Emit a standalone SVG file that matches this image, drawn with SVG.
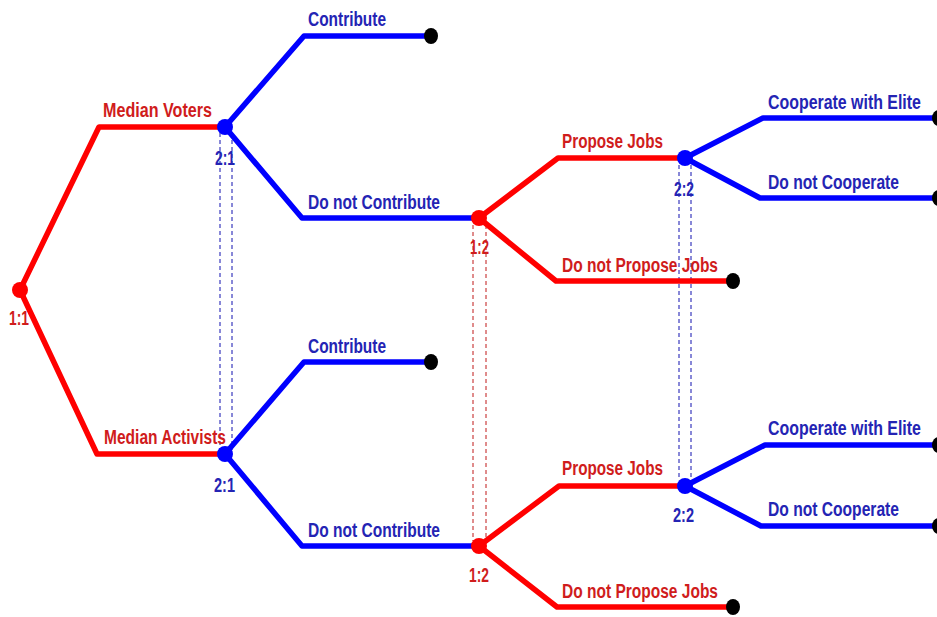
<svg xmlns="http://www.w3.org/2000/svg" width="937" height="617" viewBox="0 0 937 617">
<style>
.r{stroke:#ff0000;stroke-width:5.5;fill:none;stroke-linejoin:round;stroke-linecap:round}
.b{stroke:#0000ff;stroke-width:5.5;fill:none;stroke-linejoin:round;stroke-linecap:round}
.dr{stroke:#c01818;stroke-width:1;stroke-dasharray:4 3;fill:none}
.db{stroke:#1010b0;stroke-width:1;stroke-dasharray:4 3;fill:none}
text{font-family:"Liberation Sans",Arial,sans-serif;font-weight:bold;font-size:20px}
.tr{fill:#d01c1c}
.tb{fill:#2424b4}
.nr{fill:#ff0000}
.nb{fill:#0000ff}
.end{fill:#000000}
</style>
<rect width="937" height="617" fill="#ffffff"/>
<g id="information-sets">
<line class="db" x1="220" y1="133" x2="220" y2="450"/>
<line class="db" x1="232" y1="133" x2="232" y2="450"/>
<line class="dr" x1="473" y1="225" x2="473" y2="541"/>
<line class="dr" x1="486" y1="225" x2="486" y2="541"/>
<line class="db" x1="679" y1="165" x2="679" y2="480"/>
<line class="db" x1="691" y1="165" x2="691" y2="480"/>
</g>
<g id="connectors">
<path class="r" d="M20,290 L99,127 L225,127"/>
<text class="tr" x="103" y="117" textLength="109" lengthAdjust="spacingAndGlyphs">Median Voters</text>
<path class="r" d="M20,290 L97,454 L225,454"/>
<text class="tr" x="104" y="444" textLength="122" lengthAdjust="spacingAndGlyphs">Median Activists</text>
<path class="b" d="M225,127 L304,36 L431,36"/>
<text class="tb" x="308" y="26" textLength="78" lengthAdjust="spacingAndGlyphs">Contribute</text>
<path class="b" d="M225,127 L302,218 L479,218"/>
<text class="tb" x="308" y="209" textLength="132" lengthAdjust="spacingAndGlyphs">Do not Contribute</text>
<path class="b" d="M225,454 L304,362 L431,362"/>
<text class="tb" x="308" y="353" textLength="78" lengthAdjust="spacingAndGlyphs">Contribute</text>
<path class="b" d="M225,454 L302,546 L479,546"/>
<text class="tb" x="308" y="537" textLength="132" lengthAdjust="spacingAndGlyphs">Do not Contribute</text>
<path class="r" d="M479,218 L558,158 L685,158"/>
<text class="tr" x="562" y="148" textLength="101" lengthAdjust="spacingAndGlyphs">Propose Jobs</text>
<path class="r" d="M479,218 L556,281 L733,281"/>
<text class="tr" x="562" y="272" textLength="156" lengthAdjust="spacingAndGlyphs">Do not Propose Jobs</text>
<path class="r" d="M479,546 L559,486 L685,486"/>
<text class="tr" x="562" y="475" textLength="101" lengthAdjust="spacingAndGlyphs">Propose Jobs</text>
<path class="r" d="M479,546 L557,607 L733,607"/>
<text class="tr" x="562" y="598" textLength="156" lengthAdjust="spacingAndGlyphs">Do not Propose Jobs</text>
<path class="b" d="M685,158 L763,118 L940,118"/>
<text class="tb" transform="translate(768,109) scale(0.796,1)" x="0" y="0">Cooperate with Elite</text>
<path class="b" d="M685,158 L760,198 L940,198"/>
<text class="tb" x="768" y="189" textLength="131" lengthAdjust="spacingAndGlyphs">Do not Cooperate</text>
<path class="b" d="M685,486 L765,445 L940,445"/>
<text class="tb" transform="translate(768,435) scale(0.796,1)" x="0" y="0">Cooperate with Elite</text>
<path class="b" d="M685,486 L761,526 L940,526"/>
<text class="tb" x="768" y="516" textLength="131" lengthAdjust="spacingAndGlyphs">Do not Cooperate</text>
</g>
<g id="node-1-1"><circle class="nr" cx="20" cy="290" r="8"/><text class="tr" x="9" y="325" textLength="20" lengthAdjust="spacingAndGlyphs">1:1</text></g>
<g id="node-2-1-upper"><circle class="nb" cx="225" cy="127" r="8"/><text class="tb" x="215" y="165" textLength="20" lengthAdjust="spacingAndGlyphs">2:1</text></g>
<g id="node-2-1-lower"><circle class="nb" cx="225" cy="454" r="8"/><text class="tb" x="214" y="492" textLength="21" lengthAdjust="spacingAndGlyphs">2:1</text></g>
<g id="node-1-2-upper"><circle class="nr" cx="479" cy="218" r="8"/><text class="tr" x="470" y="254" textLength="19" lengthAdjust="spacingAndGlyphs">1:2</text></g>
<g id="node-1-2-lower"><circle class="nr" cx="479" cy="546" r="8"/><text class="tr" x="469" y="582" textLength="20" lengthAdjust="spacingAndGlyphs">1:2</text></g>
<g id="node-2-2-upper"><circle class="nb" cx="685" cy="158" r="8"/><text class="tb" x="674" y="196" textLength="20" lengthAdjust="spacingAndGlyphs">2:2</text></g>
<g id="node-2-2-lower"><circle class="nb" cx="685" cy="486" r="8"/><text class="tb" x="673" y="522" textLength="21" lengthAdjust="spacingAndGlyphs">2:2</text></g>
<g id="end-1"><ellipse class="end" cx="431" cy="36" rx="7" ry="8"/></g>
<g id="end-2"><ellipse class="end" cx="431" cy="362" rx="7" ry="8"/></g>
<g id="end-3"><ellipse class="end" cx="733" cy="281" rx="7" ry="8"/></g>
<g id="end-4"><ellipse class="end" cx="733" cy="607" rx="7" ry="8"/></g>
<g id="end-5"><ellipse class="end" cx="939" cy="118" rx="7" ry="8"/></g>
<g id="end-6"><ellipse class="end" cx="939" cy="198" rx="7" ry="8"/></g>
<g id="end-7"><ellipse class="end" cx="939" cy="445" rx="7" ry="8"/></g>
<g id="end-8"><ellipse class="end" cx="939" cy="526" rx="7" ry="8"/></g>
</svg>
